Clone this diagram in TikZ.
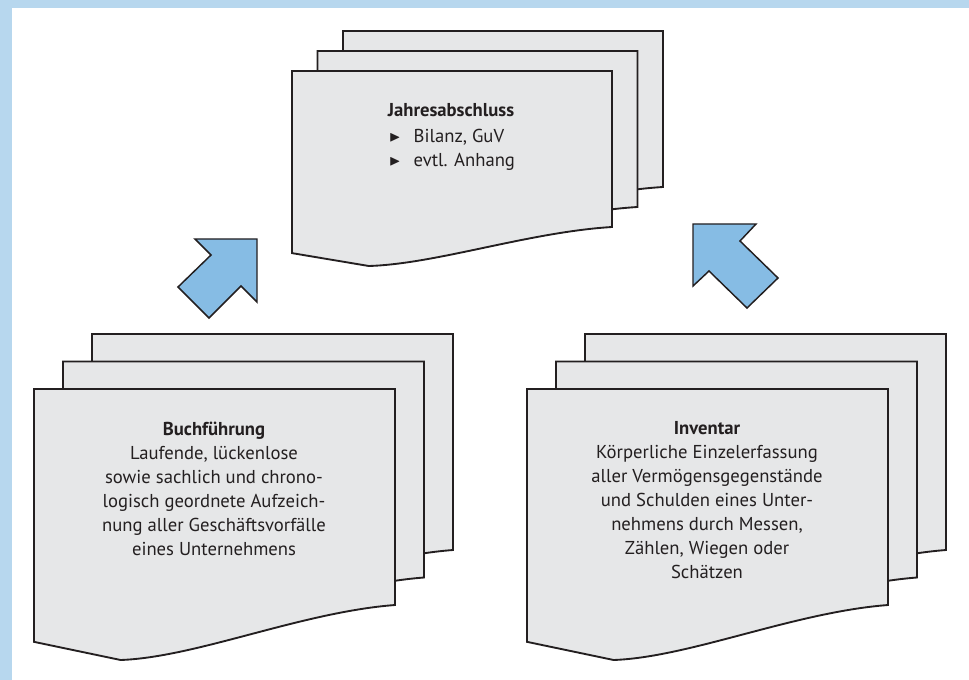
\documentclass[tikz,border=0pt]{standalone}
\usepackage{amssymb}
\usepackage{graphicx}
\usepackage{fontspec}
\setmainfont{PT Sans}
\usetikzlibrary{positioning}

\definecolor{frameblue}{RGB}{183,215,238}
\definecolor{arrowblue}{RGB}{134,188,228}
\definecolor{sheetgray}{RGB}{230,231,232}
\definecolor{inkgray}{RGB}{35,31,32}

% one sheet with wavy bottom: x, y, width, height, wave depth
\newcommand{\docsheet}[5]{%
  \draw[sheet] (#1,#2) -- (#1+#3,#2) -- (#1+#3,#2+#4)
    .. controls (#1+0.74*#3,#2+#4+0.13*#5) and (#1+0.45*#3,#2+#4+0.95*#5) .. (#1+0.24*#3,#2+#4+#5)
    -- (#1,#2+#4+0.67*#5) -- cycle;}
% stack of three sheets: x, y, width, height, wave, shift right, shift up
\newcommand{\docstack}[7]{%
  \docsheet{#1+2*#6}{#2-2*#7}{#3}{#4}{#5}
  \docsheet{#1+#6}{#2-#7}{#3}{#4}{#5}
  \docsheet{#1}{#2}{#3}{#4}{#5}}
\newcommand{\bul}{\raisebox{0.05ex}{\scalebox{0.8}{$\blacktriangleright$}}\hspace{0.7em}}

\begin{document}
\begin{tikzpicture}[x=0.75pt,y=0.75pt,yscale=-1,xscale=1,
  sheet/.style={draw=inkgray,fill=sheetgray,line width=1.4pt},
  blockarrow/.style={draw=inkgray,fill=arrowblue,line width=1.1pt,line join=miter},
  doctext/.style={text=inkgray,inner sep=0pt,align=center,font=\fontsize{14}{18}\selectfont}]
\useasboundingbox (0,0) rectangle (969,680);

%Frame
\fill[frameblue] (0,0) rectangle (969,8);
\fill[frameblue] (0,0) rectangle (12,680);

%Sheet stacks
\docstack{292}{71}{320}{156}{39}{25.5}{20}
\docstack{34}{389}{361}{216}{55}{29}{27.5}
\docstack{527}{389}{361}{216}{55}{29}{27.5}

%Block arrows
\draw[blockarrow] (257,239) -- (195,239) -- (211,255) -- (178,287) -- (209,318) -- (241,286) -- (257,302) -- cycle;
\draw[blockarrow] (693,224) -- (756,224) -- (740,241) -- (778,278) -- (747,308) -- (709,271) -- (693,286) -- cycle;

% Text Node
\node[doctext,anchor=north] (jahr) at (451,103.5) {\bfseries Jahresabschluss};
\node[doctext,anchor=north,align=left] (jahrlist) at (452,128.5) {\bul Bilanz, GuV\\ \bul evtl. Anhang};
% Text Node
\node[doctext,anchor=north] (buch) at (214,421.5) {{\bfseries Buchführung}\\ Laufende, lückenlose\\ sowie sachlich und chrono-\\ logisch geordnete Aufzeich-\\ nung aller Geschäftsvorfälle\\ eines Unternehmens};
% Text Node
\node[doctext,anchor=north] (inv) at (707,421.5) {{\bfseries Inventar}\\ Körperliche Einzelerfassung\\ aller Vermögensgegenstände\\ und Schulden eines Unter-\\ nehmens durch Messen,\\ Zählen, Wiegen oder\\ Schätzen};
\end{tikzpicture}
\end{document}
